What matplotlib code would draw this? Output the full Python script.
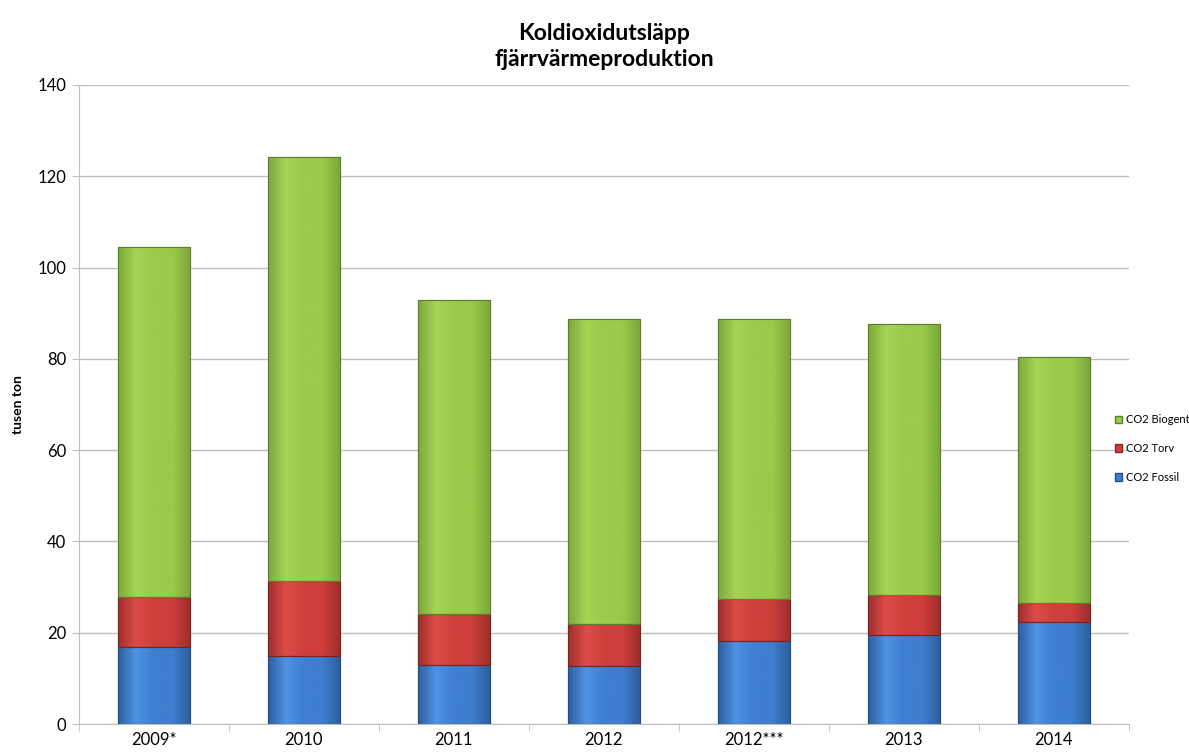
import numpy as np
from matplotlib import pyplot as plt
from matplotlib.patches import Patch
from matplotlib.colors import LinearSegmentedColormap

years = ["2009*", "2010", "2011", "2012", "2012***", "2013", "2014"]
fossil = [16.9, 14.9, 12.9, 12.7, 18.2, 19.5, 22.3]
torv = [11.0, 16.5, 11.2, 9.2, 9.1, 8.7, 4.2]
biogent = [76.6, 92.9, 68.9, 66.9, 61.5, 59.5, 53.8]

plt.rcParams["font.family"] = ["Lato", "DejaVu Sans"]

fig = plt.figure(figsize=(11.89, 7.56), dpi=100)
ax = fig.add_axes([0.0664, 0.0423, 0.883, 0.8453])

x = np.arange(len(years))
width = 0.48
fossil = np.array(fossil)
torv = np.array(torv)
biogent = np.array(biogent)

# base colour, light, dark, edge
styles = {
    "fossil": ("#3E7FCF", "#4F93E3", "#2D5E9E", "#1F4E8C"),
    "torv": ("#CE3F3C", "#DD4C48", "#9E2E2C", "#7A2220"),
    "biogent": ("#9BCB4B", "#A6D456", "#7DA83A", "#5E7F2A"),
}

def draw_series(values, bottom, key):
    base, light, dark, edge = styles[key]
    cmap = LinearSegmentedColormap.from_list(key, [dark, light, base, base, dark])
    bars = ax.bar(x, values, width, bottom=bottom, color=base, edgecolor=edge, lw=0.8, zorder=3)
    grad = np.linspace(0, 1, 256).reshape(1, -1)
    for b in bars:
        x0, y0 = b.get_x(), b.get_y()
        im = ax.imshow(grad, extent=[x0, x0 + b.get_width(), y0, y0 + b.get_height()],
                       aspect="auto", cmap=cmap, zorder=3.5, interpolation="bicubic")
        im.set_clip_path(b)
    ax.bar(x, values, width, bottom=bottom, color="none", edgecolor=edge, lw=0.8, zorder=4)

draw_series(fossil, 0, "fossil")
draw_series(torv, fossil, "torv")
draw_series(biogent, fossil + torv, "biogent")

ax.set_xlim(-0.5, len(years) - 0.5)
ax.set_ylim(0, 140)
ax.set_yticks(np.arange(0, 141, 20))
ax.tick_params(axis="y", labelsize=12, length=5, color="#BFBFBF", pad=4)
ax.set_xticks(x)
ax.set_xticklabels(years, fontsize=12)
ax.set_xticks(np.arange(-0.5, len(years), 1), minor=True)
ax.tick_params(axis="x", which="major", length=0, pad=6)
ax.tick_params(axis="x", which="minor", length=5, color="#BFBFBF")
ax.yaxis.grid(True, color="#BFBFBF", lw=1, zorder=0)
for s in ["top", "right"]:
    ax.spines[s].set_visible(False)
ax.spines["left"].set_color("#BFBFBF")
ax.spines["bottom"].set_color("#BFBFBF")

ax.set_ylabel("tusen ton", fontsize=10, fontweight="bold", labelpad=10)
ax.set_title("Koldioxidutsläpp\nfjärrvärmeproduktion", fontsize=16.5, fontweight="bold", pad=14, linespacing=1.25)

handles = [Patch(facecolor="#9BCB4B", edgecolor="#5E7F2A"),
           Patch(facecolor="#CE3F3C", edgecolor="#8C2422"),
           Patch(facecolor="#3E7FCF", edgecolor="#1F4E8C")]
fig.legend(handles, ["CO2 Biogent", "CO2 Torv", "CO2 Fossil"], loc="upper left",
           bbox_to_anchor=(0.929, 0.465), frameon=False, fontsize=8,
           handlelength=0.7, handleheight=0.7, handletextpad=0.3, labelspacing=1.6)

plt.savefig("out.png")
